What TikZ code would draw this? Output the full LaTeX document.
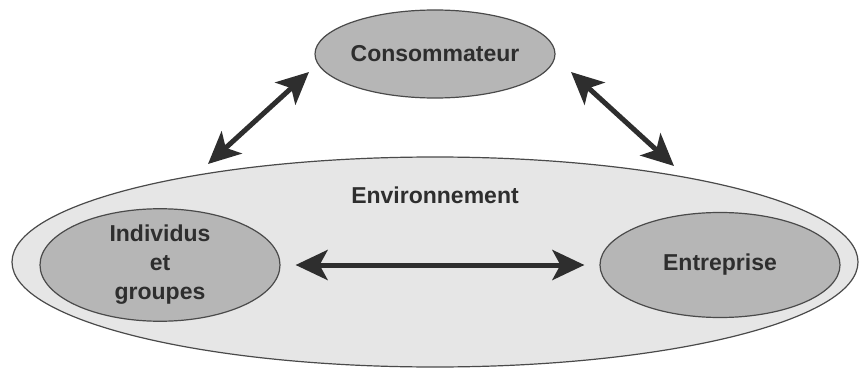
\documentclass[tikz,border=0pt]{standalone}
\usepackage{fontspec}
\setmainfont{Liberation Sans}
\usetikzlibrary{shapes.geometric,arrows.meta}
\definecolor{inkgray}{HTML}{2E2E2E}
\definecolor{envfill}{HTML}{E6E6E6}
\definecolor{blobfill}{HTML}{B6B6B6}
\definecolor{edgegray}{HTML}{4A4A4A}
\begin{document}
\begin{tikzpicture}[x=1pt,y=-1pt,
  blob/.style={ellipse,draw=edgegray,line width=1.2pt,fill=blobfill,
    inner sep=0pt,text=inkgray,font=\fontsize{23}{29}\selectfont\bfseries,
    align=center},
  twoway/.style={inkgray,line width=5pt,
    {Stealth[length=32pt,width=30pt,inset=8pt]}-{Stealth[length=32pt,width=30pt,inset=8pt]}},
  lbl/.style={text=inkgray,font=\fontsize{23}{29}\selectfont\bfseries}]
\useasboundingbox (0,0) rectangle (860,369);
% environment and the three actors
\node[blob,fill=envfill,minimum width=846pt,minimum height=210pt] (env) at (435,262) {};
\node[lbl] (envlabel) at (435,195) {Environnement};
\node[blob,minimum width=240pt,minimum height=88pt] (cons) at (435,54) {Consommateur};
\node[blob,minimum width=240pt,minimum height=105pt] (indiv) at (160,265) {Individus\\et\\groupes};
\node[blob,minimum width=240pt,minimum height=105pt] (entr) at (720,265) {Entreprise};
% arrow ends between the consumer and the environment
\coordinate (lt) at (309,72);
\coordinate (lb) at (208,164);
\coordinate (rt) at (571,72);
\coordinate (rb) at (674,166);
% mutual influences
\draw[twoway] (lb) -- (lt);
\draw[twoway] (rt) -- (rb);
\draw[twoway,shorten <=15pt,shorten >=15pt] (indiv.east) -- (entr.west);
\end{tikzpicture}
\end{document}
